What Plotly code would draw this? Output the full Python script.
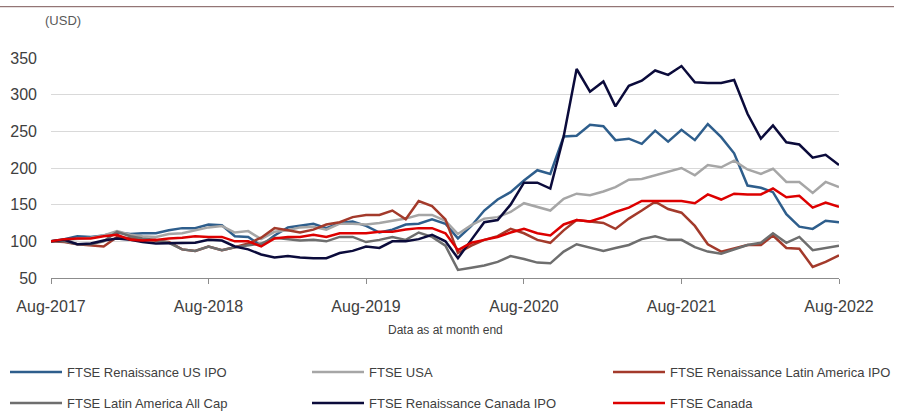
import pandas as pd
import plotly.graph_objects as go

months = pd.date_range("2017-08-01", periods=61, freq="MS")

us_ipo = [100, 103, 107, 106, 108, 112, 110, 111, 111, 115, 118, 118, 123, 122, 107, 106, 94, 108, 119, 121,
          124, 118, 125, 127, 121, 112, 116, 123, 124, 130, 124,
          104, 121, 142, 157, 167, 183, 197, 192, 243, 244, 259, 257, 238, 240, 233, 251, 236, 252, 238,
          260, 242, 220, 176, 173, 167, 137, 120, 117, 128, 126]
usa = [100, 102, 104, 105, 108, 114, 109, 107, 106, 110, 111, 115, 119, 121, 112, 114, 103, 113, 115, 119,
       120, 116, 124, 124, 123, 125, 128, 131, 136, 136, 128,
       110, 122, 131, 133, 140, 152, 147, 142, 158, 165, 163, 168, 174, 184, 185, 190, 195, 200, 190,
       204, 201, 210, 198, 192, 199, 181, 181, 166, 181, 174]
latam_ipo = [100, 99, 96, 94, 93, 106, 104, 102, 101, 99, 89, 87, 93, 88, 92, 97, 105, 118, 115, 112,
             116, 123, 126, 133, 136, 136, 142, 130, 155, 148, 130,
             84, 94, 102, 107, 117, 111, 102, 98, 115, 129, 127, 125, 117, 131, 142, 154, 144, 139, 121,
             96, 86, 90, 95, 95, 108, 91, 90, 65, 72, 81]
latam_all = [100, 100, 96, 96, 100, 113, 107, 104, 102, 98, 89, 87, 93, 88, 92, 95, 97, 105, 103, 101,
             102, 100, 106, 106, 99, 102, 106, 102, 112, 106, 94,
             61, 64, 67, 72, 80, 76, 71, 70, 86, 96, 91, 87, 91, 95, 103, 107, 102, 102, 92,
             86, 83, 89, 95, 98, 111, 98, 106, 88, 91, 94]
canada_ipo = [100, 102, 96, 97, 101, 104, 102, 99, 97, 97, 98, 98, 102, 101, 93, 89, 82, 78, 80, 78,
              77, 77, 84, 87, 93, 91, 100, 100, 103, 109, 100,
              77, 102, 126, 129, 150, 180, 180, 172, 243, 335, 304, 318, 284, 312, 319, 333, 327, 339, 317,
              316, 316, 320, 274, 240, 258, 235, 232, 214, 218, 204]
canada = [100, 103, 104, 104, 107, 109, 102, 101, 102, 104, 105, 107, 106, 106, 100, 100, 93, 104, 106, 106,
          109, 106, 111, 111, 111, 113, 113, 116, 118, 118, 111,
          88, 98, 102, 106, 112, 117, 111, 108, 123, 129, 127, 133, 140, 146, 155, 155, 155, 155, 152,
          164, 157, 165, 164, 164, 172, 160, 162, 146, 153, 147]

series_names = ["FTSE Renaissance US IPO", "FTSE USA", "FTSE Renaissance Latin America IPO",
                "FTSE Latin America All Cap", "FTSE Renaissance Canada IPO", "FTSE Canada"]
series_values = [us_ipo, usa, latam_ipo, latam_all, canada_ipo, canada]
colors = ["#2E5E8C", "#A6A6A6", "#A33A2B", "#6E6E6E", "#0B0B3B", "#DD0000"]

FONT = "Liberation Sans, Arial, sans-serif"
L, R, T, B = 51, 60, 58, 134
W, H = 899, 412
PW, PH = W - L - R, H - T - B


def px_x(px):
    return (px - L) / PW


def px_y(py):
    return (H - B - py) / PH


# legend positions (line start x, row centre y) in pixels
leg_pos = [(10, 372), (312, 372), (613, 372), (10, 403), (312, 403), (613, 403)]

fig = go.Figure()
legend_layouts = {}
for k, (name, vals, col) in enumerate(zip(series_names, series_values, colors)):
    lname = "legend" if k == 0 else f"legend{k + 1}"
    fig.add_trace(go.Scatter(x=months, y=vals, name=name, mode="lines",
                             line=dict(color=col, width=2.5), legend=lname,
                             hoverinfo="skip"))
    lx, ly = leg_pos[k]
    legend_layouts[lname] = dict(
        xref="container", yref="container",
        x=(lx - 5) / W, y=1 - ly / H, xanchor="left", yanchor="middle",
        orientation="h", itemwidth=52, bgcolor="rgba(0,0,0,0)",
        font=dict(family=FONT, size=13, color="#404040"),
        borderwidth=0, tracegroupgap=0,
    )

fig.update_layout(
    width=W, height=H,
    margin=dict(l=L, r=R, t=T, b=B, pad=0, autoexpand=False),
    paper_bgcolor="white", plot_bgcolor="white",
    font=dict(family=FONT, color="#404040"),
    showlegend=True,
    xaxis=dict(
        type="date", range=["2017-08-01", "2022-08-01"],
        tick0="2017-08-01", dtick="M12", tickformat="%b-%Y",
        showgrid=False, zeroline=False, automargin=False,
        showline=True, linecolor="#8C8C8C", linewidth=1,
        ticks="outside", ticklen=5, tickcolor="#8C8C8C", tickwidth=1,
        tickfont=dict(family=FONT, size=16, color="#404040"),
        ticklabelstandoff=9,
    ),
    yaxis=dict(
        range=[50, 350], dtick=50, tick0=50, automargin=False,
        showgrid=True, gridcolor="#D9D9D9", gridwidth=1,
        zeroline=False, showline=False, ticks="",
        tickfont=dict(family=FONT, size=16, color="#404040"),
        ticklabelstandoff=13,
    ),
    annotations=[
        dict(text="(USD)", xref="paper", yref="paper", x=px_x(43), y=px_y(20.5),
             xanchor="left", yanchor="middle", showarrow=False,
             font=dict(family=FONT, size=13, color="#595959")),
        dict(text="Data as at month end", xref="paper", yref="paper", x=px_x(445), y=px_y(330),
             xanchor="center", yanchor="middle", showarrow=False,
             font=dict(family=FONT, size=12, color="#404040")),
    ],
    shapes=[
        dict(type="line", xref="paper", yref="paper", x0=px_x(0), x1=px_x(894),
             y0=px_y(6.7), y1=px_y(6.7), line=dict(color="#7A5556", width=1)),
    ],
    **legend_layouts,
)

fig.write_html("out.html", config={"displayModeBar": False},
               post_script="document.body.style.margin='0px';")
